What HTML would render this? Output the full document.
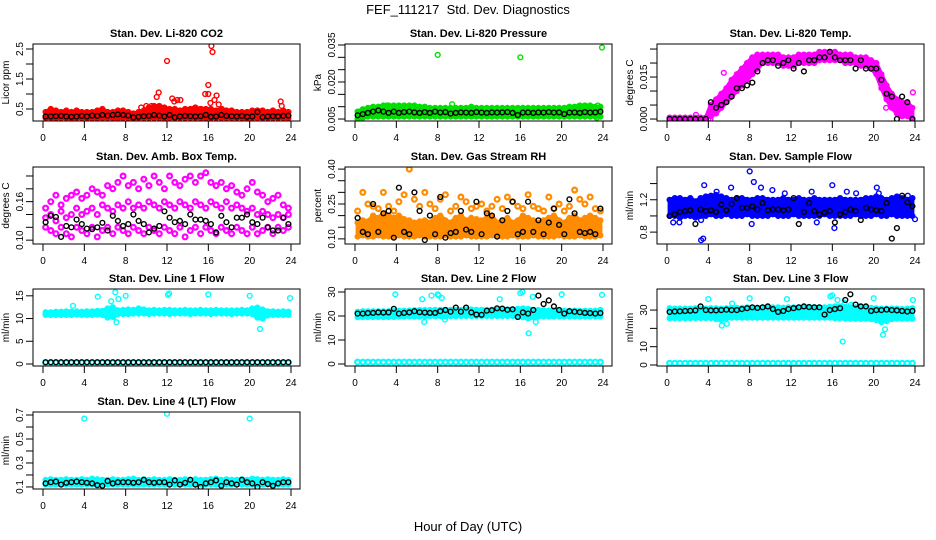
<!DOCTYPE html>
<html><head><meta charset="utf-8"><style>
html,body{margin:0;padding:0;background:#fff;}
svg{display:block;font-family:"Liberation Sans",sans-serif;}
</style></head><body>
<svg id="chart" width="936" height="540" viewBox="0 0 936 540" xmlns="http://www.w3.org/2000/svg">
<text x="468" y="14" text-anchor="middle" font-size="13">FEF_111217&#160; Std. Dev. Diagnostics</text>
<text x="468" y="531" text-anchor="middle" font-size="13">Hour of Day (UTC)</text>
</svg>
<script>
// ---- data (48 half-hour samples, t = 0.25 .. 23.75) ----
const xTicks = [0,4,8,12,16,20,24];
const co2Lo = [0.2,0.2,0.19,0.2,0.2,0.19,0.2,0.2,0.2,0.19,0.2,0.2,0.2,0.2,0.19,0.2,0.2,0.19,0.2,0.2,0.2,0.2,0.2,0.19,0.2,0.2,0.2,0.2,0.2,0.2,0.2,0.19,0.2,0.2,0.2,0.2,0.2,0.2,0.2,0.19,0.2,0.2,0.2,0.2,0.2,0.2,0.2,0.19];
const co2Hi = [0.4,0.5,0.45,0.4,0.45,0.4,0.45,0.4,0.4,0.4,0.45,0.5,0.4,0.4,0.45,0.45,0.4,0.35,0.4,0.45,0.55,0.6,0.6,0.55,0.5,0.5,0.45,0.5,0.5,0.55,0.5,0.5,0.5,0.45,0.5,0.45,0.45,0.4,0.4,0.4,0.45,0.45,0.45,0.4,0.45,0.4,0.45,0.4];
const co2Out = [[11,0.9],[11.2,1.05],[12,2.1],[12.5,0.85],[13,0.8],[13.3,0.8],[12.7,0.75],[15.7,1.0],[16,1.0],[16,1.3],[16.3,2.6],[16.4,2.4],[16.2,0.7],[16.6,0.8],[16.8,0.95],[17,0.65],[17.3,0.5],[23,0.75],[23.1,0.6],[9.5,0.55],[10,0.6],[10.5,0.6],[10.8,0.55],[11.5,0.45],[14.5,0.5],[15.3,0.5]];
const co2Blk = [0.25,0.25,0.26,0.27,0.25,0.24,0.25,0.27,0.25,0.28,0.27,0.3,0.28,0.3,0.32,0.3,0.28,0.22,0.24,0.26,0.27,0.3,0.28,0.25,0.3,0.22,0.25,0.27,0.26,0.25,0.26,0.3,0.24,0.25,0.3,0.27,0.26,0.25,0.27,0.24,0.25,0.4,0.23,0.25,0.26,0.25,0.27,0.28];

const presLo = [0.005,0.0055,0.006,0.006,0.006,0.006,0.006,0.006,0.006,0.006,0.006,0.006,0.006,0.006,0.006,0.006,0.006,0.006,0.006,0.006,0.006,0.006,0.006,0.006,0.006,0.006,0.006,0.006,0.006,0.006,0.006,0.006,0.006,0.006,0.006,0.006,0.006,0.006,0.006,0.006,0.006,0.006,0.006,0.006,0.006,0.006,0.006,0.006];
const presHi = [0.008,0.009,0.0095,0.01,0.01,0.0105,0.0105,0.0105,0.0105,0.0105,0.0105,0.0105,0.01,0.01,0.0095,0.0095,0.0095,0.0095,0.0095,0.0095,0.0095,0.0095,0.01,0.0095,0.0095,0.0095,0.0095,0.0095,0.0095,0.0095,0.0095,0.0095,0.0095,0.0095,0.0095,0.0095,0.0095,0.0095,0.0095,0.0095,0.0095,0.01,0.01,0.0105,0.0105,0.0105,0.01,0.01];
const presOut = [[8,0.031],[16,0.030],[23.9,0.034],[23.5,0.0105],[23.4,0.0055],[3.1,0.0105],[9.4,0.011]];
const presBlk = [0.0065,0.007,0.0075,0.008,0.0085,0.008,0.0075,0.008,0.0075,0.0078,0.008,0.0077,0.0075,0.0078,0.0075,0.008,0.0076,0.0078,0.0072,0.0075,0.0077,0.0076,0.0075,0.0078,0.0076,0.0075,0.0077,0.0076,0.0077,0.0078,0.0075,0.0066,0.0076,0.0077,0.0075,0.0077,0.0076,0.0078,0.0076,0.0077,0.007,0.0076,0.0077,0.0075,0.0078,0.0076,0.0077,0.008];

const tempLo = [0,0,0,0,0,0,0,0,0.001,0.002,0.004,0.006,0.008,0.01,0.012,0.014,0.016,0.018,0.02,0.02,0.02,0.02,0.019,0.019,0.019,0.02,0.02,0.02,0.02,0.021,0.021,0.021,0.021,0.021,0.02,0.02,0.02,0.019,0.019,0.018,0.016,0.011,0.007,0.004,0.002,0.001,0.001,0];
const tempHi = [0.0005,0.0005,0.0005,0.0005,0.0005,0.0005,0.0005,0.0005,0.005,0.007,0.009,0.011,0.014,0.016,0.018,0.02,0.022,0.023,0.023,0.023,0.023,0.023,0.022,0.022,0.022,0.023,0.023,0.023,0.023,0.024,0.024,0.024,0.024,0.023,0.023,0.023,0.022,0.022,0.022,0.021,0.02,0.016,0.012,0.009,0.007,0.006,0.006,0.004];
const tempOut = [[2.8,0.0015],[4,0],[4.2,0],[5.5,0.0165],[21.2,0.004],[22.9,0.0035],[23.8,0.0095],[23.2,0.0055]];
const tempBlk = [0,0,0,0,0,0,0,0,0.006,0.004,0.005,0.006,0.008,0.011,0.011,0.012,0.013,0.017,0.02,0.021,0.021,0.019,0.02,0.021,0.018,0.02,0.017,0.021,0.021,0.022,0.022,0.024,0.022,0.021,0.021,0.021,0.018,0.021,0.018,0.018,0.018,0.014,0.009,0.008,0,0.008,0.006,0];

const ambA = [0.12,0.115,0.11,0.12,0.11,0.105,0.12,0.115,0.11,0.12,0.105,0.115,0.12,0.11,0.12,0.115,0.11,0.12,0.115,0.11,0.12,0.115,0.11,0.12,0.115,0.11,0.12,0.105,0.115,0.12,0.11,0.12,0.115,0.11,0.12,0.115,0.11,0.12,0.115,0.11,0.12,0.11,0.115,0.12,0.11,0.12,0.115,0.12];
const ambB = [0.135,0.14,0.13,0.145,0.135,0.14,0.15,0.14,0.145,0.15,0.14,0.155,0.15,0.145,0.155,0.15,0.16,0.15,0.155,0.15,0.16,0.155,0.15,0.16,0.155,0.15,0.16,0.155,0.15,0.16,0.155,0.15,0.16,0.155,0.15,0.16,0.15,0.155,0.15,0.145,0.15,0.14,0.145,0.14,0.135,0.14,0.135,0.14];
const ambC = [0.15,0.16,0.17,0.155,0.165,0.17,0.175,0.165,0.17,0.18,0.175,0.17,0.185,0.18,0.19,0.2,0.185,0.19,0.18,0.195,0.185,0.2,0.19,0.18,0.2,0.19,0.185,0.195,0.2,0.19,0.2,0.205,0.19,0.185,0.19,0.18,0.185,0.175,0.17,0.18,0.19,0.175,0.17,0.16,0.165,0.17,0.155,0.15];
const ambBlk = [0.128,0.138,0.136,0.105,0.122,0.12,0.132,0.125,0.118,0.117,0.12,0.127,0.115,0.138,0.13,0.122,0.125,0.14,0.13,0.125,0.112,0.118,0.122,0.145,0.135,0.128,0.13,0.125,0.14,0.132,0.132,0.13,0.125,0.112,0.138,0.128,0.12,0.135,0.135,0.14,0.128,0.125,0.135,0.12,0.115,0.115,0.135,0.125];

const rhLo = [0.11,0.115,0.11,0.11,0.115,0.11,0.11,0.11,0.115,0.11,0.11,0.11,0.115,0.11,0.11,0.11,0.11,0.115,0.11,0.11,0.11,0.115,0.11,0.11,0.11,0.11,0.115,0.11,0.11,0.11,0.115,0.11,0.11,0.11,0.115,0.11,0.11,0.11,0.11,0.115,0.11,0.11,0.11,0.115,0.11,0.11,0.11,0.115];
const rhHi = [0.17,0.18,0.175,0.2,0.19,0.21,0.2,0.19,0.2,0.185,0.18,0.17,0.175,0.18,0.17,0.19,0.2,0.18,0.17,0.19,0.2,0.18,0.19,0.185,0.18,0.19,0.2,0.17,0.18,0.19,0.17,0.18,0.2,0.19,0.18,0.17,0.18,0.19,0.2,0.18,0.17,0.19,0.2,0.18,0.19,0.2,0.19,0.18];
const rhC = [0.22,0.3,0.25,0.24,0.23,0.3,0.24,0.22,0.26,0.29,0.4,0.27,0.24,0.3,0.25,0.23,0.27,0.29,0.22,0.24,0.28,0.26,0.23,0.24,0.25,0.22,0.24,0.27,0.23,0.28,0.26,0.24,0.23,0.29,0.24,0.23,0.22,0.28,0.23,0.25,0.22,0.24,0.31,0.27,0.25,0.28,0.23,0.22];
const rhBlk = [0.19,0.13,0.12,0.25,0.13,0.21,0.22,0.105,0.32,0.13,0.12,0.3,0.22,0.095,0.2,0.12,0.28,0.105,0.125,0.13,0.22,0.14,0.13,0.26,0.12,0.21,0.2,0.11,0.18,0.22,0.26,0.12,0.13,0.26,0.13,0.18,0.12,0.17,0.23,0.16,0.12,0.27,0.21,0.13,0.125,0.13,0.12,0.23];

const sfLo = [1.0,1.0,0.98,1.0,1.0,0.98,1.0,1.0,1.02,1.0,1.0,1.02,1.0,1.0,1.0,1.02,1.0,1.0,1.0,1.0,1.02,1.0,1.0,1.0,1.02,1.0,1.0,1.0,1.0,1.0,1.02,1.0,1.0,1.0,1.0,1.0,1.02,1.0,1.0,1.0,1.02,1.0,1.0,1.02,1.0,1.0,1.0,1.0];
const sfHi = [1.2,1.22,1.22,1.2,1.22,1.18,1.22,1.24,1.25,1.26,1.24,1.22,1.2,1.22,1.22,1.2,1.2,1.22,1.22,1.2,1.2,1.2,1.22,1.2,1.2,1.22,1.2,1.2,1.22,1.2,1.2,1.2,1.2,1.22,1.2,1.2,1.2,1.2,1.22,1.22,1.24,1.22,1.2,1.22,1.24,1.22,1.2,1.22];
const sfOut = [[0.6,0.92],[1.2,0.92],[3.3,0.7],[3.5,0.72],[3.3,0.95],[3.6,1.38],[4.8,1.3],[6.2,1.35],[8,1.55],[8.2,0.9],[8.4,1.42],[9.1,1.35],[10.2,1.32],[11.4,1.28],[14,1.3],[14.5,0.92],[16,1.38],[16.2,0.85],[17.4,1.3],[18.3,1.28],[20.3,1.35],[20.5,1.28],[19.5,1.05],[24,0.96],[23.3,1.25]];
const sfBlk = [1.0,1.02,1.05,1.06,1.07,0.9,1.08,1.06,1.07,1.05,1.14,1.07,1.15,1.22,1.1,1.1,1.12,1.08,1.16,1.07,1.08,1.08,1.07,1.08,1.22,0.9,1.05,1.16,1.06,1.02,1.04,1.06,0.92,1.02,1.05,1.08,1.06,0.95,1.1,1.08,1.07,1.06,1.16,0.72,0.85,1.25,1.17,1.12];

const l1Lo = [10.8,10.8,10.8,10.8,10.8,10.8,10.9,10.8,10.8,10.8,10.9,10.8,10.2,10.5,11.0,11.0,11.0,11.1,11.1,11.1,11.0,11.1,11.1,11.1,11.0,11.1,11.1,11.1,11.0,11.1,11.1,11.1,11.0,11.1,11.1,11.1,11.0,11.1,11.1,11.1,11.0,10.2,10.0,10.7,10.8,10.8,10.8,10.8];
const l1Hi = [11.4,11.4,11.5,11.5,11.6,11.5,11.6,11.5,11.6,11.6,11.7,11.7,12.2,12.5,11.8,11.9,12.0,11.9,12.2,12.0,11.8,11.9,11.8,11.9,11.9,11.8,11.8,11.9,11.8,11.8,11.9,11.8,11.8,11.9,11.8,11.8,11.8,11.8,11.9,11.8,12.2,12.4,12.0,11.6,11.6,11.5,11.6,11.5];
const l1Out = [[2.9,12.8],[5.3,14.8],[6.6,13.8],[7,15.8],[7.3,14.3],[7.1,9.2],[8,15],[12.1,15.2],[12.2,15.5],[16,15.3],[20,15],[21,7.7],[23.9,14.5],[6.8,10.3]];
const l1Low = [0.3,0.3,0.3,0.3,0.3,0.3,0.3,0.3,0.3,0.3,0.3,0.3,0.3,0.3,0.3,0.3,0.3,0.3,0.3,0.3,0.3,0.3,0.3,0.3,0.3,0.3,0.3,0.3,0.3,0.3,0.3,0.3,0.3,0.3,0.3,0.3,0.3,0.3,0.3,0.3,0.3,0.3,0.3,0.3,0.3,0.3,0.3,0.3];
const l1Blk = [0.4,0.4,0.4,0.4,0.4,0.4,0.4,0.4,0.4,0.4,0.4,0.4,0.4,0.4,0.4,0.4,0.4,0.4,0.4,0.4,0.4,0.4,0.4,0.4,0.4,0.4,0.4,0.4,0.4,0.4,0.4,0.4,0.4,0.4,0.4,0.4,0.4,0.4,0.4,0.4,0.4,0.4,0.4,0.4,0.4,0.4,0.4,0.4];

const l2Lo = [19.5,19.5,19.6,19.6,19.6,19.5,19.6,19.6,19.7,19.8,19.8,19.8,19.8,19.8,19.9,19.9,19.9,19.9,19.9,19.9,20.0,20.0,20.0,20.0,20.0,20.0,20.0,20.0,20.0,20.0,20.0,19.8,19.5,19.0,19.5,19.8,19.8,19.8,19.8,19.8,19.8,19.8,19.8,19.8,19.8,19.8,19.8,19.8];
const l2Hi = [21.8,22.0,22.0,22.0,22.0,22.0,22.0,22.1,22.2,22.2,22.3,22.4,22.5,22.5,22.5,22.6,22.6,22.6,22.6,22.6,22.6,22.7,22.7,22.6,22.6,22.6,22.6,22.6,22.6,22.7,22.8,23.0,23.2,23.0,22.6,22.5,22.4,22.3,22.3,22.2,22.2,22.2,22.2,22.2,22.2,22.2,22.2,22.5];
const l2Out = [[3.9,29],[6.5,27],[6.7,17.5],[7.4,28.5],[8,29],[8.1,28.5],[8.4,27.5],[8.7,18.5],[16,29.5],[16.2,30],[17.2,28],[17.5,17.5],[16.8,12.8],[20,29],[23.9,28.8],[14,27]];
const l2Low = [0.8,0.8,0.8,0.8,0.8,0.8,0.8,0.8,0.8,0.8,0.8,0.8,0.8,0.8,0.8,0.8,0.8,0.8,0.8,0.8,0.8,0.8,0.8,0.8,0.8,0.8,0.8,0.8,0.8,0.8,0.8,0.8,0.8,0.8,0.8,0.8,0.8,0.8,0.8,0.8,0.8,0.8,0.8,0.8,0.8,0.8,0.8,0.8];
const l2Blk = [21,21,21.2,21.3,21.5,21.4,21.5,23,21,21.3,21.5,22,21.6,21.4,21.3,21.3,22,22.5,21.8,23.5,21.8,23.5,21.5,20.6,20.5,22.2,22.4,23.2,23.1,22.6,22.8,19.6,21.5,21,22.5,28.5,25,26.5,24,22.5,21,22,21.8,21.6,21.3,21.2,21,21.2];

const l3Lo = [25.5,25.5,25.5,25.5,25.5,25.6,25.6,25.6,25.6,25.0,24.5,25.5,25.8,25.8,25.8,25.8,25.8,25.8,25.8,25.8,25.8,25.8,25.8,25.8,25.8,25.8,25.8,25.8,25.8,25.8,25.8,25.8,25.5,25.5,25.3,25.3,25.2,25.2,25.2,25.0,24.5,23.5,24.0,25.0,25.3,25.3,25.3,25.3];
const l3Hi = [31.0,30.8,30.8,30.8,30.8,31.0,30.8,30.8,31.0,31.0,30.8,31.0,31.2,31.2,31.2,31.5,31.2,31.2,31.5,31.5,31.5,31.5,31.3,31.5,31.5,31.5,31.5,31.8,31.6,31.5,31.5,31.8,32,32,31.8,31.5,31.5,31.5,31.5,31.2,31.0,30.8,30.8,30.8,30.8,30.6,30.8,31.0];
const l3Out = [[4,36],[5.3,21.5],[5.8,22.5],[6.3,33.5],[8,36.5],[11.6,36],[15.8,37.5],[16,38],[16.5,35.5],[17,12.8],[17.2,34],[17.8,32.8],[20,36.5],[20.9,16.5],[21.1,19.5],[23.8,35.5]];
const l3Low = [1.0,1.0,1.0,1.0,1.0,1.0,1.0,1.0,1.0,1.0,1.0,1.0,1.0,1.0,1.0,1.0,1.0,1.0,1.0,1.0,1.0,1.0,1.0,1.0,1.0,1.0,1.0,1.0,1.0,1.0,1.0,1.0,1.0,1.0,1.0,1.0,1.0,1.0,1.0,1.0,1.0,1.0,1.0,1.0,1.0,1.0,1.0,1.0];
const l3Blk = [29,29.2,29.3,29.5,29.6,29.8,32,30,29.8,29.8,30,30.2,30,30,30.5,31,31.5,31.2,31.5,32,30.5,29,29.5,30.5,31,31.5,32,31.6,31.5,31.5,27.5,30,30.5,31,35.5,38.6,33,32,32,29.5,30,30,30.3,30,29.8,29.5,29.2,29.5];

const l4Lo = [0.12,0.12,0.12,0.12,0.12,0.12,0.12,0.12,0.12,0.12,0.12,0.12,0.12,0.12,0.12,0.12,0.12,0.12,0.12,0.12,0.12,0.12,0.12,0.12,0.12,0.12,0.12,0.12,0.12,0.12,0.12,0.12,0.12,0.12,0.12,0.12,0.12,0.12,0.12,0.12,0.12,0.12,0.12,0.12,0.12,0.12,0.12,0.12];
const l4Hi = [0.16,0.165,0.16,0.16,0.165,0.16,0.16,0.165,0.16,0.17,0.165,0.16,0.16,0.165,0.16,0.16,0.165,0.17,0.16,0.165,0.16,0.165,0.16,0.16,0.165,0.16,0.16,0.165,0.16,0.165,0.16,0.16,0.165,0.17,0.16,0.165,0.16,0.16,0.165,0.16,0.17,0.165,0.16,0.165,0.16,0.16,0.165,0.16];
const l4Out = [[4,0.67],[12,0.71],[20,0.67]];
const l4Blk = [0.13,0.14,0.145,0.12,0.135,0.14,0.145,0.14,0.135,0.13,0.115,0.11,0.15,0.13,0.14,0.14,0.14,0.135,0.14,0.16,0.14,0.135,0.14,0.14,0.12,0.155,0.12,0.135,0.16,0.12,0.1,0.13,0.14,0.155,0.11,0.14,0.13,0.12,0.16,0.14,0.13,0.1,0.14,0.125,0.11,0.13,0.14,0.14];

// ---- rendering ----
const NS = "http://www.w3.org/2000/svg";
const svg = document.getElementById('chart');
const times = co2Lo.map((_, i) => 0.25 + i * 0.5);
function mk(tag, attrs, parent) {
  const e = document.createElementNS(NS, tag);
  for (const k in attrs) e.setAttribute(k, attrs[k]);
  (parent || svg).appendChild(e);
  return e;
}
const panels = [
  {name:'co2', title:'Stan. Dev. Li-820 CO2', ylab:'Licor ppm', ylim:[0.1,2.667], ticks:[0.5,1,1.5,2,2.5], labels:[0.5,1.5,2.5], fmt:1, col:'#ff0000', band:[co2Lo,co2Hi], pts:[], out:co2Out, blk:co2Blk},
  {name:'pressure', title:'Stan. Dev. Li-820 Pressure', ylab:'kPa', ylim:[0.0042,0.0354], ticks:[0.005,0.01,0.015,0.02,0.025,0.03,0.035], labels:[0.005,0.02,0.035], fmt:3, col:'#00e000', band:[presLo,presHi], pts:[], out:presOut, blk:presBlk},
  {name:'temp', title:'Stan. Dev. Li-820 Temp.', ylab:'degrees C', ylim:[-0.0007,0.0268], ticks:[0,0.005,0.01,0.015,0.02,0.025], labels:[0,0.015], fmt:3, col:'#ff00ff', band:[tempLo,tempHi], pts:[], out:tempOut, blk:tempBlk},
  {name:'amb-box-temp', title:'Stan. Dev. Amb. Box Temp.', ylab:'degrees C', ylim:[0.094,0.214], ticks:[0.1,0.12,0.14,0.16,0.18,0.2], labels:[0.1,0.16], fmt:2, col:'#ff00ff', band:null, pts:[ambA,ambB,ambC], out:[], blk:ambBlk},
  {name:'gas-rh', title:'Stan. Dev. Gas Stream RH', ylab:'percent', ylim:[0.078,0.409], ticks:[0.1,0.15,0.2,0.25,0.3,0.35,0.4], labels:[0.1,0.25,0.4], fmt:2, col:'#ff8c00', band:[rhLo,rhHi], pts:[rhC], out:[], blk:rhBlk},
  {name:'sample-flow', title:'Stan. Dev. Sample Flow', ylab:'ml/min', ylim:[0.653,1.605], ticks:[0.8,1.0,1.2,1.4], labels:[0.8,1.2], fmt:1, col:'#0000ff', band:[sfLo,sfHi], pts:[], out:sfOut, blk:sfBlk},
  {name:'line1-flow', title:'Stan. Dev. Line 1 Flow', ylab:'ml/min', ylim:[-0.44,16.5], ticks:[0,5,10,15], labels:[0,5,10,15], fmt:0, col:'#00ffff', band:[l1Lo,l1Hi], pts:[l1Low], out:l1Out, blk:l1Blk},
  {name:'line2-flow', title:'Stan. Dev. Line 2 Flow', ylab:'ml/min', ylim:[-0.83,31.25], ticks:[0,10,20,30], labels:[0,10,20,30], fmt:0, col:'#00ffff', band:[l2Lo,l2Hi], pts:[l2Low], out:l2Out, blk:l2Blk},
  {name:'line3-flow', title:'Stan. Dev. Line 3 Flow', ylab:'ml/min', ylim:[-0.55,41.5], ticks:[0,10,20,30], labels:[0,10,30], fmt:0, col:'#00ffff', band:[l3Lo,l3Hi], pts:[l3Low], out:l3Out, blk:l3Blk},
  {name:'line4-flow', title:'Stan. Dev. Line 4 (LT) Flow', ylab:'ml/min', ylim:[0.083,0.725], ticks:[0.1,0.2,0.3,0.4,0.5,0.6,0.7], labels:[0.1,0.3,0.5,0.7], fmt:1, col:'#00ffff', band:[l4Lo,l4Hi], pts:[], out:l4Out, blk:l4Blk}
];
const rowTop = [44,167,289,412], H = 77;
panels.forEach((p, idx) => {
  const c = idx % 3, r = Math.floor(idx / 3);
  const bx0 = 33 + 312*c, bx1 = 300 + 312*c, by0 = rowTop[r], by1 = by0 + H;
  const xs = t => 43 + 312*c + t * 248 / 24;
  const ys = v => by1 - (v - p.ylim[0]) / (p.ylim[1] - p.ylim[0]) * H;
  const g = mk('g', {});
  
  
  const clipId = 'clip' + idx;
  const cp = mk('clipPath', {id: clipId}, g);
  mk('rect', {x: bx0, y: by0, width: bx1 - bx0, height: H}, cp);
  const plot = mk('g', {'clip-path': 'url(#' + clipId + ')'}, g);
  
  
  const circ = (t, v, col, sw) => {
    const e = mk('circle', {cx: xs(t).toFixed(1), cy: ys(v).toFixed(1), r: 2.4, fill: 'none', stroke: col, 'stroke-width': sw || 1.4}, plot);
    
    
  };
  if (p.band) {
    const [lo, hi] = p.band;
    let d = '';
    times.forEach((t, i) => { d += (i ? 'L' : 'M') + xs(t).toFixed(1) + ',' + ys(hi[i]).toFixed(1); });
    for (let i = times.length - 1; i >= 0; i--) d += 'L' + xs(times[i]).toFixed(1) + ',' + ys(lo[i]).toFixed(1);
    const band = mk('path', {d: d + 'Z', fill: p.col, stroke: p.col, 'stroke-width': 4, 'stroke-linejoin': 'round'}, plot);
    
    
    times.forEach((t, i) => { circ(t, lo[i], p.col); circ(t, hi[i], p.col); });
  }
  p.pts.forEach(arr => times.forEach((t, i) => circ(t, arr[i], p.col, 2.2)));
  p.out.forEach(o => circ(o[0], o[1], p.col));
  p.blk.forEach((v, i) => circ(times[i], v, '#000'));
  const box = mk('rect', {x: bx0, y: by0, width: bx1 - bx0, height: H, fill: 'none', stroke: '#000', 'stroke-width': 1}, g);
  
  
  xTicks.forEach(t => {
    mk('line', {x1: xs(t), x2: xs(t), y1: by1, y2: by1 + 7, stroke: '#000'}, g);
    const tx = mk('text', {x: xs(t), y: by1 + 20, 'text-anchor': 'middle', 'font-size': 10}, g);
    tx.textContent = t;
    
    
  });
  p.ticks.forEach(v => mk('line', {x1: bx0 - 7, x2: bx0, y1: ys(v), y2: ys(v), stroke: '#000'}, g));
  p.labels.forEach(v => {
    const y = ys(v), x = bx0 - 10;
    const tx = mk('text', {x: x, y: y, 'text-anchor': 'middle', 'font-size': 10, transform: 'rotate(-90 ' + x + ' ' + y + ')'}, g);
    tx.textContent = v.toFixed(p.fmt);
    
    
  });
  const ylx = bx0 - 24, yly = by0 + H/2;
  const yl = mk('text', {x: ylx, y: yly, 'text-anchor': 'middle', 'font-size': 10, transform: 'rotate(-90 ' + ylx + ' ' + yly + ')'}, g);
  yl.textContent = p.ylab;
  
  
  const ti = mk('text', {x: (bx0 + bx1)/2, y: by0 - 7, 'text-anchor': 'middle', 'font-size': 11, 'font-weight': 'bold'}, g);
  ti.textContent = p.title;
  
  
});
</script>
</body></html>
